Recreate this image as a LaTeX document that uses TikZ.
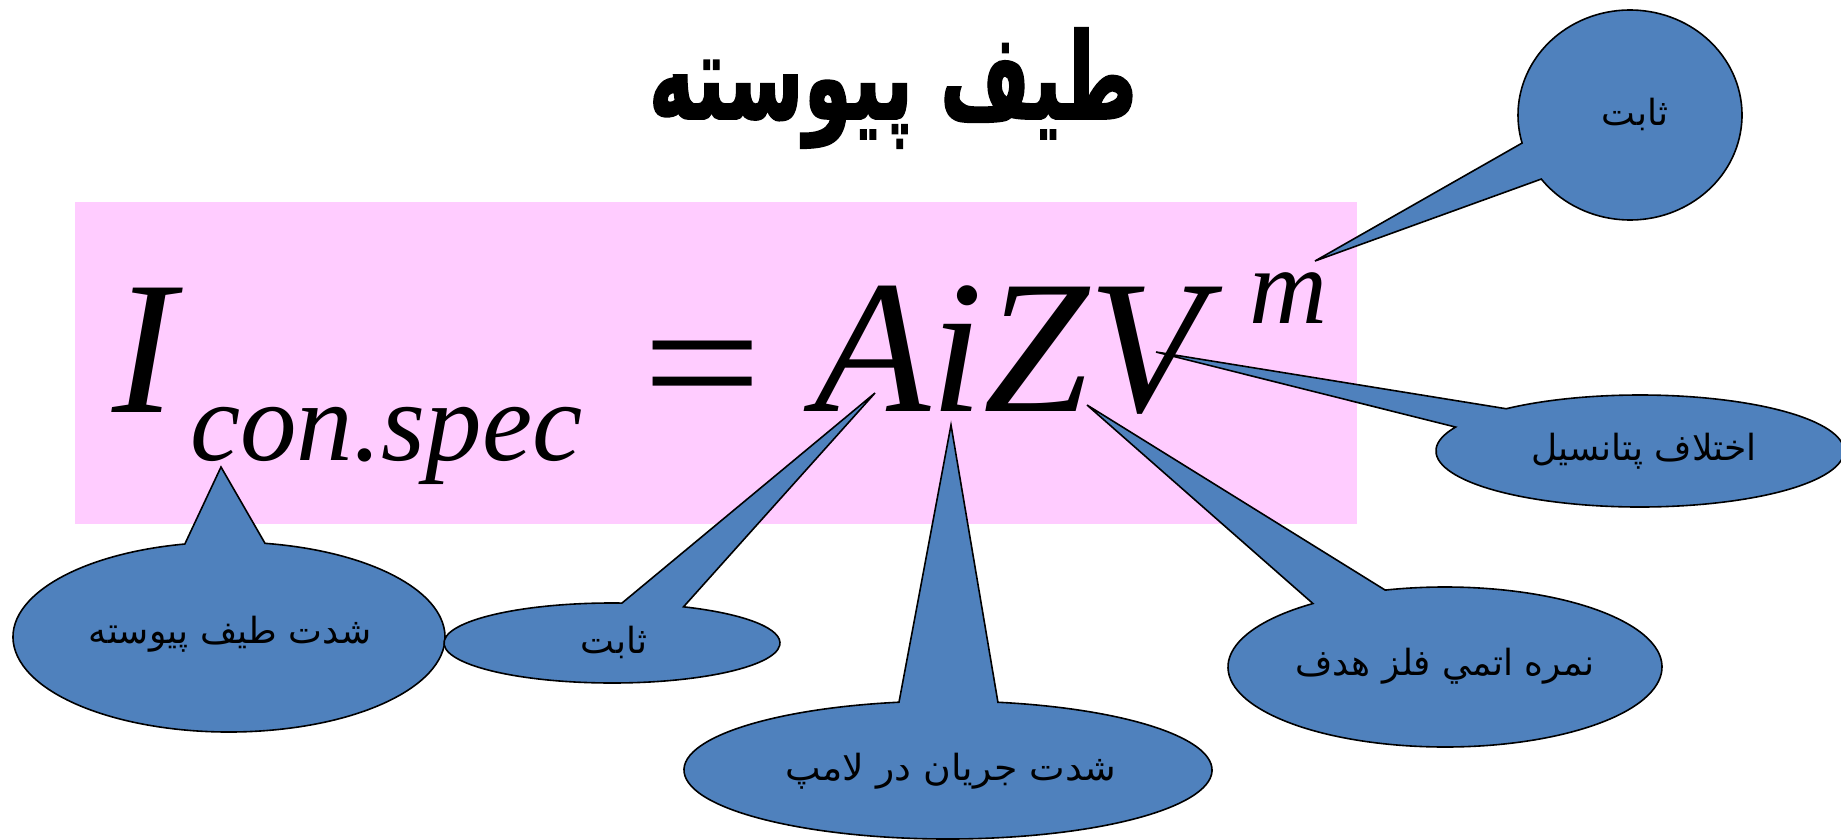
\documentclass[tikz,border=0pt]{standalone}
\usepackage{fontspec}
\newfontfamily\tnr{Liberation Serif}
\newfontfamily\tnrit{Liberation Serif Italic}
\newfontfamily\arabicfont[Script=Arabic]{DejaVu Sans}
\newfontfamily\arabictitle[Script=Arabic,FakeBold=1.5]{DejaVu Sans Bold}
\TeXXeTstate=1
\definecolor{pinkbg}{HTML}{FFCCFF}
\definecolor{calloutblue}{HTML}{4F81BD}
\tikzset{
  callout/.style={fill=calloutblue, draw=black, line width=1.6pt, line join=miter},
  lbl/.style={inner sep=0pt, font=\arabicfont\fontsize{36}{40}\selectfont},
  formula/.style={inner sep=0pt, anchor=base west},
}
\begin{document}
\begin{tikzpicture}[x=1pt,y=1pt]
\useasboundingbox (0,0) rectangle (1841,-840);
\fill[white] (0,0) rectangle (1841,-840);
% title
\node[inner sep=0pt] (title) at (893,-88) {\scalebox{0.97}[1.5]{\arabictitle\fontsize{80}{90}\selectfont\beginR طيف پيوسته\endR}};
% pink box
\node[fill=pinkbg, minimum width=1282pt, minimum height=322pt, inner sep=0pt, anchor=north west] (box) at (75,-202) {};
% formula
\node[formula, font=\tnrit\fontsize{190}{200}\selectfont] (I) at (112,-412) {I};
\node[formula, font=\tnrit\fontsize{113}{120}\selectfont] (sub) at (190,-460) {con.spec};
\node[formula, font=\tnr\fontsize{190}{200}\selectfont] (eq) at (642,-423) {\scalebox{1.12}[0.95]{=}};
\node[formula, font=\tnrit\fontsize{190}{200}\selectfont] (AiZV) at (814,-411) {AiZV};
\node[formula, font=\tnrit\fontsize{108}{120}\selectfont] (m) at (1249,-323) {m};
% callout centres and tips
\coordinate (cA) at (1630,-115); \coordinate (tA) at (1315,-261);
\coordinate (cB) at (1640,-451); \coordinate (tB) at (1156,-352);
\coordinate (cC) at (1445,-667); \coordinate (tC) at (1087,-405);
\coordinate (cD) at (948,-770);  \coordinate (tD) at (951,-425);
\coordinate (cE) at (612,-643);  \coordinate (tE) at (875,-393);
\coordinate (cF) at (229,-637);  \coordinate (tF) at (221,-467);
% callout shapes
\path[callout] (cF) ++(101.8:216pt and 95pt) arc[start angle=101.8, end angle=440.4, x radius=216pt, y radius=95pt] -- (tF) -- cycle;
\path[callout] (cE) ++(86.6:168pt and 40pt) arc[start angle=86.6, end angle=424.8, x radius=168pt, y radius=40pt] -- (tE) -- cycle;
\path[callout] (cD) ++(100.7:264pt and 69pt) arc[start angle=100.7, end angle=439.1, x radius=264pt, y radius=69pt] -- (tD) -- cycle;
\path[callout] (cC) ++(127.5:217pt and 80pt) arc[start angle=127.5, end angle=466, x radius=217pt, y radius=80pt] -- (tC) -- cycle;
\path[callout] (cB) ++(154.7:204pt and 56pt) arc[start angle=154.7, end angle=491, x radius=204pt, y radius=56pt] -- (tB) -- cycle;
\path[callout] (cA) ++(217.6:112pt and 105pt) arc[start angle=217.6, end angle=555.5, x radius=112pt, y radius=105pt] -- (tA) -- cycle;
% labels
\node[lbl] (lA) at (1635,-114) {\beginR ثابت\endR};
\node[lbl] (lB) at (1644,-451) {\beginR اختلاف پتانسيل\endR};
\node[lbl] (lC) at (1445,-666) {\beginR نمره اتمي فلز هدف\endR};
\node[lbl] (lD) at (951,-771) {\scalebox{1.05}[1]{\beginR شدت جريان در لامپ\endR}};
\node[lbl] (lE) at (614,-642) {\beginR ثابت\endR};
\node[lbl] (lF) at (230,-634) {\beginR شدت طيف پيوسته\endR};
\end{tikzpicture}
\end{document}
